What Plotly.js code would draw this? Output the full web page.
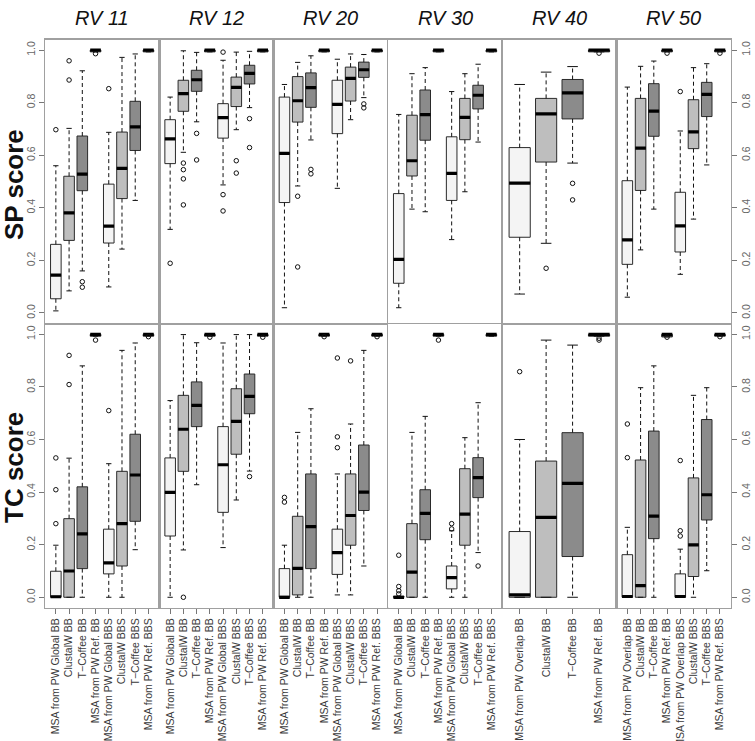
<!DOCTYPE html>
<html>
<head>
<meta charset="utf-8">
<script src="https://cdn.plot.ly/plotly-3.0.1.min.js"></script>
<style>
  html, body { margin: 0; padding: 0; background: #ffffff; }
  #chart { width: 755px; height: 741px; }
</style>
</head>
<body>
<div id="chart"></div>
<script>
// Benchmark subsets, one column of panels each
const DATASETS = ['RV 11', 'RV 12', 'RV 20', 'RV 30', 'RV 40', 'RV 50'];
const SCORES = ['SP score', 'TC score'];

// Method labels per panel
const LABELS_GLOBAL = ['MSA from PW Global BB', 'ClustalW BB', 'T\u2212Coffee BB', 'MSA from PW Ref. BB',
                       'MSA from PW Global BBS', 'ClustalW BBS', 'T\u2212Coffee BBS', 'MSA from PW Ref. BBS'];
const LABELS_OVERLAP4 = ['MSA from PW Overlap BB', 'ClustalW BB', 'T\u2212Coffee BB', 'MSA from PW Ref. BB'];
const LABELS_OVERLAP8 = ['MSA from PW Overlap BB', 'ClustalW BB', 'T\u2212Coffee BB', 'MSA from PW Ref. BB',
                         'MSA from PW Overlap BBS', 'ClustalW BBS', 'T\u2212Coffee BBS', 'MSA from PW Ref. BBS'];
const PANEL_LABELS = [LABELS_GLOBAL, LABELS_GLOBAL, LABELS_GLOBAL, LABELS_GLOBAL, LABELS_OVERLAP4, LABELS_OVERLAP8];

// Method family of each box (0 PW-derived, 1 ClustalW, 2 T-Coffee, 3 reference)
const FAMILY_8 = [0, 1, 2, 3, 0, 1, 2, 3];
const FAMILY_4 = [0, 1, 2, 3];

// ---- SP score: five-number summaries, one list per dataset ----
const SP_LOW = [
  [0.008, 0.084, 0.160, 0.993, 0.099, 0.243, 0.428, 0.993],
  [0.318, 0.611, 0.727, 0.993, 0.487, 0.697, 0.781, 0.993],
  [0.020, 0.483, 0.658, 0.993, 0.474, 0.735, 0.819, 0.993],
  [0.020, 0.395, 0.385, 0.993, 0.279, 0.461, 0.650, 0.993],
  [0.072, 0.265, 0.570, 0.993],
  [0.060, 0.240, 0.395, 0.993, 0.147, 0.357, 0.563, 0.993]
];
const SP_Q1 = [
  [0.054, 0.276, 0.465, 0.993, 0.266, 0.435, 0.618, 0.993],
  [0.568, 0.767, 0.843, 0.993, 0.665, 0.785, 0.871, 0.993],
  [0.420, 0.726, 0.782, 0.993, 0.682, 0.806, 0.896, 0.993],
  [0.113, 0.521, 0.657, 0.993, 0.428, 0.659, 0.776, 0.993],
  [0.288, 0.574, 0.738, 0.993],
  [0.185, 0.466, 0.672, 0.993, 0.232, 0.625, 0.747, 0.993]
];
const SP_MED = [
  [0.144, 0.381, 0.528, 1.000, 0.330, 0.550, 0.708, 1.000],
  [0.662, 0.834, 0.887, 1.000, 0.743, 0.858, 0.911, 1.000],
  [0.607, 0.807, 0.857, 1.000, 0.793, 0.892, 0.925, 1.000],
  [0.204, 0.579, 0.754, 1.000, 0.531, 0.744, 0.828, 1.000],
  [0.494, 0.757, 0.837, 1.000],
  [0.278, 0.627, 0.768, 1.000, 0.331, 0.689, 0.831, 1.000]
];
const SP_Q3 = [
  [0.261, 0.520, 0.673, 1.000, 0.490, 0.688, 0.805, 1.000],
  [0.735, 0.885, 0.923, 1.000, 0.796, 0.897, 0.942, 1.000],
  [0.821, 0.899, 0.913, 1.000, 0.885, 0.935, 0.954, 1.000],
  [0.454, 0.752, 0.848, 1.000, 0.670, 0.816, 0.866, 1.000],
  [0.629, 0.816, 0.888, 1.000],
  [0.503, 0.816, 0.872, 1.000, 0.459, 0.811, 0.877, 1.000]
];
const SP_HIGH = [
  [0.560, 0.702, 0.921, 1.000, 0.687, 0.972, 0.985, 1.000],
  [0.821, 0.997, 0.991, 1.000, 0.961, 0.992, 0.995, 1.000],
  [0.869, 0.953, 0.978, 1.000, 0.965, 0.985, 0.983, 1.000],
  [0.755, 0.910, 0.933, 1.000, 0.842, 0.910, 0.946, 1.000],
  [0.869, 0.916, 0.937, 1.000],
  [0.859, 0.938, 0.958, 1.000, 0.692, 0.933, 0.948, 1.000]
];
const SP_OUT = [
  [[0.697], [0.959, 0.886], [0.119, 0.098], [0.986], [0.853], [], [], []],
  [[0.189], [0.570, 0.545, 0.510, 0.411], [0.683, 0.582], [], [0.992, 0.450, 0.388], [0.579, 0.532], [0.739, 0.629], []],
  [[], [0.444, 0.175], [0.546, 0.529], [], [], [], [0.795, 0.780], []],
  [[], [], [], [], [], [], [], []],
  [[], [0.170], [0.493, 0.430], [0.988]],
  [[], [], [], [0.988], [0.842], [], [], [0.988]]
];

// ---- TC score ----
const TC_LOW = [
  [0.000, 0.000, 0.000, 0.993, 0.000, 0.000, 0.181, 0.993],
  [0.000, 0.180, 0.428, 0.993, 0.189, 0.370, 0.480, 0.993],
  [0.000, 0.000, 0.000, 0.993, 0.009, 0.009, 0.119, 0.993],
  [0.000, 0.000, 0.000, 0.993, 0.000, 0.000, 0.170, 0.993],
  [0.000, 0.000, 0.000, 0.993],
  [0.000, 0.000, 0.000, 0.990, 0.000, 0.000, 0.101, 0.993]
];
const TC_Q1 = [
  [0.000, 0.000, 0.109, 0.993, 0.089, 0.119, 0.289, 0.993],
  [0.233, 0.479, 0.649, 0.993, 0.323, 0.544, 0.698, 0.993],
  [0.000, 0.009, 0.109, 0.993, 0.087, 0.198, 0.330, 0.993],
  [0.000, 0.000, 0.219, 0.993, 0.032, 0.198, 0.379, 0.993],
  [0.000, 0.000, 0.155, 0.993],
  [0.000, 0.000, 0.223, 0.990, 0.000, 0.079, 0.294, 0.993]
];
const TC_MED = [
  [0.002, 0.100, 0.241, 1.000, 0.131, 0.280, 0.465, 1.000],
  [0.399, 0.639, 0.730, 1.000, 0.504, 0.669, 0.764, 1.000],
  [0.000, 0.110, 0.269, 1.000, 0.170, 0.311, 0.400, 1.000],
  [0.000, 0.096, 0.319, 1.000, 0.075, 0.316, 0.455, 1.000],
  [0.009, 0.304, 0.433, 1.000],
  [0.003, 0.044, 0.309, 1.000, 0.003, 0.199, 0.390, 1.000]
];
const TC_Q3 = [
  [0.099, 0.299, 0.420, 1.000, 0.259, 0.479, 0.620, 1.000],
  [0.530, 0.768, 0.819, 1.000, 0.649, 0.793, 0.849, 1.000],
  [0.109, 0.308, 0.469, 1.000, 0.259, 0.469, 0.579, 1.000],
  [0.004, 0.280, 0.409, 1.000, 0.119, 0.489, 0.531, 1.000],
  [0.250, 0.518, 0.626, 1.000],
  [0.162, 0.522, 0.632, 1.000, 0.089, 0.454, 0.676, 1.000]
];
const TC_HIGH = [
  [0.198, 0.529, 0.880, 1.000, 0.508, 0.939, 0.967, 1.000],
  [0.748, 0.999, 0.968, 1.000, 0.967, 0.999, 0.999, 1.000],
  [0.198, 0.627, 0.717, 1.000, 0.469, 0.659, 0.939, 1.000],
  [0.004, 0.627, 0.688, 1.000, 0.253, 0.607, 0.740, 1.000],
  [0.600, 0.978, 0.959, 1.000],
  [0.266, 0.797, 0.880, 1.000, 0.183, 0.768, 0.797, 1.000]
];
const TC_OUT = [
  [[0.530, 0.409, 0.280], [0.920, 0.809], [], [0.978], [0.710], [], [], [0.991]],
  [[], [0.000], [], [0.989], [], [], [0.459], [0.989]],
  [[0.380, 0.362], [], [], [0.991], [0.910, 0.610, 0.569], [0.899], [], [0.991]],
  [[0.160, 0.041, 0.025, 0.013], [], [], [0.978], [0.280, 0.260], [], [0.119], []],
  [[0.858], [], [], [0.978, 0.985]],
  [[0.659, 0.531], [], [], [0.989], [0.520, 0.253, 0.233], [], [], [0.991]]
];

const ROWS = [
  { low: SP_LOW, q1: SP_Q1, med: SP_MED, q3: SP_Q3, high: SP_HIGH, out: SP_OUT },
  { low: TC_LOW, q1: TC_Q1, med: TC_MED, q3: TC_Q3, high: TC_HIGH, out: TC_OUT }
];

// ---- styling ----
const FILLS = ['#f4f4f4', '#bebebe', '#8b8b8b', '#4a4a4a'];
const FONT = 'Liberation Sans, Arial, Helvetica, sans-serif';
const W = 755, H = 741;
const PANEL_LEFT = 45, PANEL_W = 114.3;
const ROW_TOP = [39.5, 323.8], ROW_BOTTOM = [323.5, 607.8];
const ROW_LABEL_Y = [185, 468];
const BOX_W = 0.8, STAPLE_W = 0.4;
const YTICKS = [0, 0.2, 0.4, 0.6, 0.8, 1.0];
const YTEXT = ['0.0', '0.2', '0.4', '0.6', '0.8', '1.0'];

const traces = [];
const layout = {
  width: W, height: H,
  margin: { l: 0, r: 0, t: 0, b: 0, pad: 0 },
  paper_bgcolor: '#ffffff', plot_bgcolor: '#ffffff',
  showlegend: false,
  boxmode: 'overlay',
  font: { family: FONT, color: '#333333' },
  annotations: []
};

ROWS.forEach((row, r) => {
  DATASETS.forEach((name, p) => {
    const k = r * 6 + p + 1;
    const xa = 'x' + (k === 1 ? '' : k);
    const ya = 'y' + (k === 1 ? '' : k);
    const labels = PANEL_LABELS[p];
    const n = labels.length;
    const fam = n === 8 ? FAMILY_8 : FAMILY_4;
    const pos = labels.map((_, i) => i + 1);
    const low = row.low[p], q1 = row.q1[p], med = row.med[p], q3 = row.q3[p], high = row.high[p], out = row.out[p];

    // dashed whiskers
    const wx = [], wy = [];
    pos.forEach((x, i) => {
      wx.push(x, x, null, x, x, null);
      wy.push(q3[i], high[i], null, q1[i], low[i], null);
    });
    traces.push({ type: 'scatter', mode: 'lines', x: wx, y: wy, xaxis: xa, yaxis: ya,
      line: { color: '#111111', width: 1, dash: '4px,3px' }, hoverinfo: 'skip' });

    // boxes, one trace per method family
    [0, 1, 2, 3].forEach(g => {
      const idx = pos.map((_, i) => i).filter(i => fam[i] === g);
      if (!idx.length) return;
      traces.push({
        type: 'box', xaxis: xa, yaxis: ya,
        x: idx.map(i => pos[i]),
        q1: idx.map(i => q1[i]), median: idx.map(i => med[i]), q3: idx.map(i => q3[i]),
        lowerfence: idx.map(i => q1[i]), upperfence: idx.map(i => q3[i]),
        width: BOX_W, whiskerwidth: 0, boxpoints: false,
        fillcolor: FILLS[g], line: { color: '#2a2a2a', width: 1 },
        hoverinfo: 'skip'
      });
    });

    // staples at whisker ends
    const sx = [], sy = [];
    pos.forEach((x, i) => {
      sx.push(x - STAPLE_W / 2, x + STAPLE_W / 2, null, x - STAPLE_W / 2, x + STAPLE_W / 2, null);
      sy.push(high[i], high[i], null, low[i], low[i], null);
    });
    traces.push({ type: 'scatter', mode: 'lines', x: sx, y: sy, xaxis: xa, yaxis: ya,
      line: { color: '#111111', width: 1 }, hoverinfo: 'skip' });

    // thick medians
    const mx = [], my = [];
    pos.forEach((x, i) => {
      mx.push(x - BOX_W / 2, x + BOX_W / 2, null);
      my.push(med[i], med[i], null);
    });
    traces.push({ type: 'scatter', mode: 'lines', x: mx, y: my, xaxis: xa, yaxis: ya,
      line: { color: '#000000', width: 3.2 }, hoverinfo: 'skip' });

    // outliers
    const ox = [], oy = [];
    pos.forEach((x, i) => out[i].forEach(v => { ox.push(x); oy.push(v); }));
    traces.push({ type: 'scatter', mode: 'markers', x: ox, y: oy, xaxis: xa, yaxis: ya,
      marker: { symbol: 'circle-open', size: 4.5, color: '#111111', line: { width: 1 } },
      hoverinfo: 'skip' });

    // axes
    const x0 = PANEL_LEFT + PANEL_W * p, x1 = x0 + PANEL_W;
    const pad = 0.04 * n;
    const bottomRow = r === 1;
    layout['xaxis' + (k === 1 ? '' : k)] = {
      domain: [x0 / W, x1 / W], anchor: ya,
      range: [0.5 - pad, n + 0.5 + pad],
      showgrid: false, zeroline: false, fixedrange: true,
      showline: true, mirror: true, linecolor: '#a0a0a0', linewidth: 1.2,
      tickmode: 'array', tickvals: pos, ticktext: labels,
      ticks: bottomRow ? 'outside' : '', ticklen: 5, tickcolor: '#777777',
      showticklabels: bottomRow, tickangle: -90,
      tickfont: { family: FONT, size: 10.5, color: '#3a3a3a' }
    };
    const yTicks = p === 0 || p === 5;
    layout['yaxis' + (k === 1 ? '' : k)] = {
      domain: [1 - ROW_BOTTOM[r] / H, 1 - ROW_TOP[r] / H], anchor: xa,
      range: [-0.04, 1.04], side: p === 5 ? 'right' : 'left',
      showgrid: false, zeroline: false, fixedrange: true,
      showline: true, mirror: true, linecolor: '#a0a0a0', linewidth: 1.2,
      tickmode: 'array', tickvals: YTICKS, ticktext: YTEXT,
      ticks: yTicks ? 'outside' : '', ticklen: 5, tickcolor: '#777777',
      showticklabels: yTicks, tickangle: -90,
      tickfont: { family: FONT, size: 10.5, color: '#666666' }
    };

    if (r === 0) {
      layout.annotations.push({
        xref: 'paper', yref: 'paper', x: (x0 + x1) / 2 / W, y: 1 - 18 / H,
        xanchor: 'center', yanchor: 'middle', showarrow: false,
        text: '<i>' + name + '</i>', font: { family: FONT, size: 20, color: '#111111' }
      });
    }
  });

  layout.annotations.push({
    xref: 'paper', yref: 'paper', x: 14 / W, y: 1 - ROW_LABEL_Y[r] / H,
    xanchor: 'center', yanchor: 'middle', showarrow: false, textangle: -90,
    text: '<b>' + SCORES[r] + '</b>', font: { family: FONT, size: 26, color: '#111111' }
  });
});

Plotly.newPlot('chart', traces, layout, { staticPlot: true, displayModeBar: false });
</script>
</body>
</html>
